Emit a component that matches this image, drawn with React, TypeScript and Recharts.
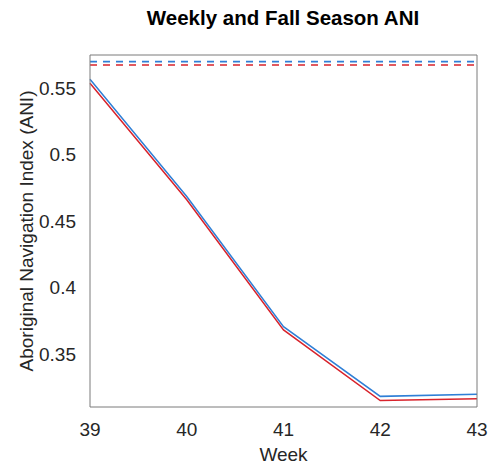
import * as React from 'react';
import {
  LineChart,
  Line,
  XAxis,
  YAxis,
  ReferenceLine,
  Label
} from 'recharts';

// weekly ANI, two runs, plus the fall season averages (dashed)
const weeks = [39, 40, 41, 42, 43];
const weeklyBlue = [0.5568, 0.4685, 0.3705, 0.318, 0.3196];
const weeklyRed = [0.5538, 0.466, 0.368, 0.3149, 0.3162];
const seasonBlue = 0.57;
const seasonRed = 0.5675;

const xTicks = [39, 40, 41, 42, 43];
const yTicks = [0.35, 0.4, 0.45, 0.5, 0.55];

const BLUE = '#2f7fd6';
const RED = '#d8232c';
const AXIS = '#7a7a7a';
const TEXT = '#262626';
const FONT = '"Liberation Sans", Arial, sans-serif';

const data = weeks.map((w, i) => ({
  week: w,
  blue: weeklyBlue[i],
  red: weeklyRed[i]
}));

const tickStyle = { fill: TEXT, fontSize: 19, fontFamily: FONT };

export default function App() {
  return (
    <div style={{ position: 'absolute', left: 0, top: 0, background: '#fff' }}>
      <LineChart
        width={495}
        height={469}
        data={data}
        margin={{ top: 55, right: 18, bottom: 0, left: 0 }}
      >
        <text
          x={283}
          y={25}
          textAnchor="middle"
          style={{ fontFamily: FONT, fontSize: 20.5, fontWeight: 'bold', fill: '#000' }}
        >
          Weekly and Fall Season ANI
        </text>

        {/* bottom axis: labels */}
        <XAxis
          xAxisId="b"
          dataKey="week"
          type="number"
          domain={[39, 43]}
          ticks={xTicks}
          tickLine={false}
          axisLine={{ stroke: AXIS }}
          tick={tickStyle}
          tickMargin={10}
          height={62}
        >
          <Label
            value="Week"
            position="insideTop"
            offset={41}
            style={{ fill: TEXT, fontSize: 19, fontFamily: FONT }}
          />
        </XAxis>
        {/* inward tick marks, bottom and top */}
        <XAxis
          xAxisId="bm"
          dataKey="week"
          type="number"
          domain={[39, 43]}
          ticks={xTicks}
          mirror
          tick={false}
          tickSize={5}
          tickLine={{ stroke: AXIS }}
          axisLine={false}
        />
        <XAxis
          xAxisId="t"
          orientation="top"
          dataKey="week"
          type="number"
          domain={[39, 43]}
          ticks={xTicks}
          mirror
          tick={false}
          tickSize={5}
          tickLine={{ stroke: AXIS }}
          axisLine={{ stroke: AXIS }}
        />

        <YAxis
          yAxisId="l"
          type="number"
          domain={[0.31, 0.575]}
          ticks={yTicks}
          width={90}
          tickLine={false}
          axisLine={{ stroke: AXIS }}
          tick={tickStyle}
          tickMargin={8}
          allowDataOverflow
        >
          <Label
            value="Aboriginal Navigation Index (ANI)"
            angle={-90}
            position="insideLeft"
            offset={26}
            style={{ textAnchor: 'middle', fill: TEXT, fontSize: 19, fontFamily: FONT }}
          />
        </YAxis>
        <YAxis
          yAxisId="lm"
          type="number"
          domain={[0.31, 0.575]}
          ticks={yTicks}
          mirror
          tick={false}
          tickSize={5}
          tickLine={{ stroke: AXIS }}
          axisLine={false}
        />
        <YAxis
          yAxisId="r"
          orientation="right"
          type="number"
          domain={[0.31, 0.575]}
          ticks={yTicks}
          mirror
          tick={false}
          tickSize={5}
          tickLine={{ stroke: AXIS }}
          axisLine={{ stroke: AXIS }}
        />

        <ReferenceLine
          xAxisId="b"
          yAxisId="l"
          y={seasonBlue}
          stroke={BLUE}
          strokeWidth={1.6}
          strokeDasharray="7 6"
        />
        <ReferenceLine
          xAxisId="b"
          yAxisId="l"
          y={seasonRed}
          stroke={RED}
          strokeWidth={1.6}
          strokeDasharray="7 6"
        />

        <Line
          xAxisId="b"
          yAxisId="l"
          dataKey="red"
          stroke={RED}
          strokeWidth={1.5}
          dot={false}
          type="linear"
          isAnimationActive={false}
        />
        <Line
          xAxisId="b"
          yAxisId="l"
          dataKey="blue"
          stroke={BLUE}
          strokeWidth={1.5}
          dot={false}
          type="linear"
          isAnimationActive={false}
        />
      </LineChart>
    </div>
  );
}
